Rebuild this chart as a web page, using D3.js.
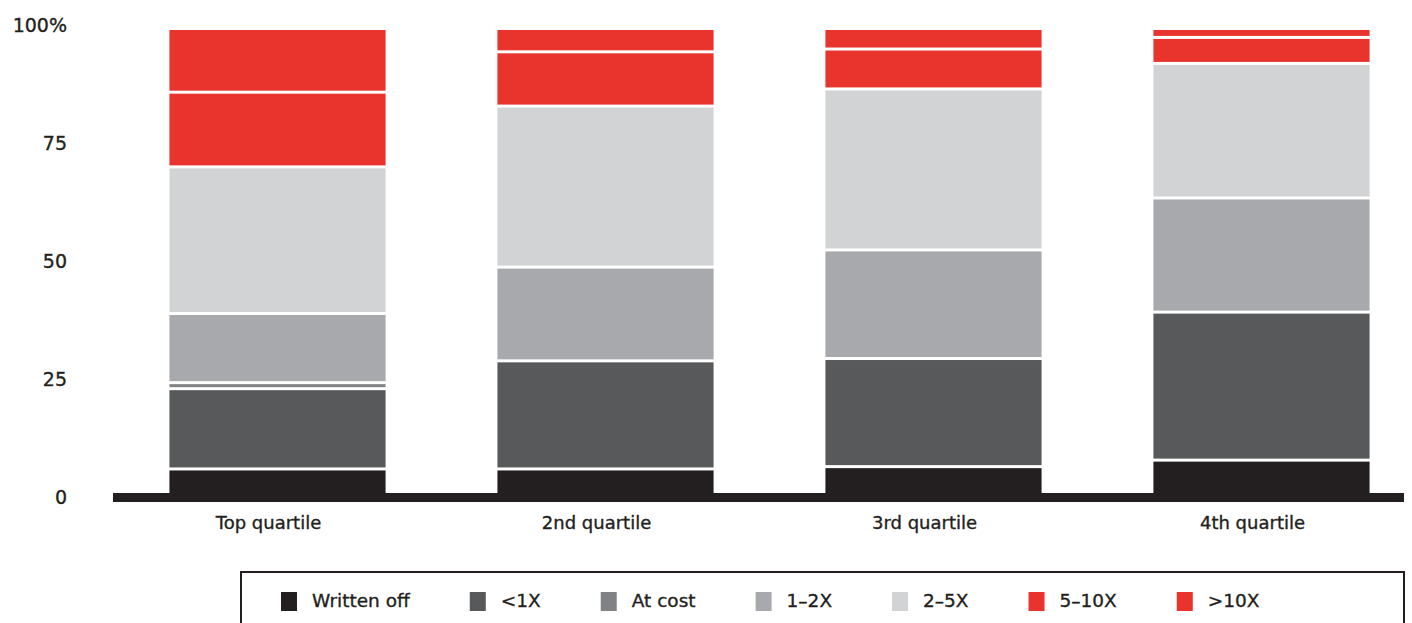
<!DOCTYPE html>
<html>
<head>
<meta charset="utf-8">
<script src="https://cdn.jsdelivr.net/npm/d3@7"></script>
<style>
  html, body { margin: 0; padding: 0; background: #fff; }
  svg { display: block; }
  text { font-family: "DejaVu Sans", sans-serif; fill: #231f20; stroke: #231f20; stroke-width: 0.35px; }
</style>
</head>
<body>
<svg id="chart" width="1412" height="623"></svg>
<script>
// Portfolio outcome mix by fund quartile (share of deals, %)
const categories = ["Top quartile", "2nd quartile", "3rd quartile", "4th quartile"];
const seriesNames = ["Written off", "<1X", "At cost", "1–2X", "2–5X", "5–10X", ">10X"];
const writtenOff = [5.4, 5.4, 5.9, 7.3];
const underOneX  = [17.3, 23.3, 23.3, 31.9];
const atCost     = [1.3, 0, 0, 0];
const oneToTwoX  = [14.9, 20.2, 23.4, 24.6];
const twoToFiveX = [31.6, 34.7, 34.7, 29.0];
const fiveToTenX = [16.1, 11.7, 8.6, 5.6];
const overTenX   = [13.4, 4.7, 4.1, 1.6];
const tickValues = [0, 25, 50, 75, 100];
const tickLabels = ["0", "25", "50", "75", "100%"];

const seriesColors = ["#231f20", "#58595b", "#808285", "#a7a9ac", "#d1d3d4", "#e9332d", "#e9332d"];
const seriesValues = [writtenOff, underOneX, atCost, oneToTwoX, twoToFiveX, fiveToTenX, overTenX];

const rows = categories.map((c, i) => {
  const r = { category: c };
  seriesNames.forEach((s, k) => { r[s] = seriesValues[k][i]; });
  return r;
});

const svg = d3.select("#chart");

const x = d3.scaleBand()
  .domain(categories)
  .range([114, 1425])
  .paddingInner(0.341)
  .paddingOuter(0.169);

const y = d3.scaleLinear().domain([0, 100]).range([494, 30]);

const stacked = d3.stack().keys(seriesNames)(rows);
const gap = 3;

// baseline bar
svg.append("rect")
  .attr("x", 113).attr("y", y(0) - 1)
  .attr("width", 1404 - 113).attr("height", 9)
  .attr("fill", "#231f20");

// stacked segments separated by thin white gaps
const layers = svg.append("g").selectAll("g")
  .data(stacked)
  .join("g")
  .attr("fill", (d, i) => seriesColors[i]);

layers.selectAll("rect")
  .data(d => d.map(p => ({ p, key: d.key, idx: d.index })))
  .join("rect")
  .filter(d => d.p[1] - d.p[0] > 0)
  .attr("x", d => x(d.p.data.category))
  .attr("width", x.bandwidth())
  .attr("y", d => y(d.p[1]) + (d.p[1] >= 99.99 ? 0 : gap / 2))
  .attr("height", d => {
    const top = y(d.p[1]) + (d.p[1] >= 99.99 ? 0 : gap / 2);
    const bottom = y(d.p[0]) - (d.p[0] <= 0 ? -1 : gap / 2);
    return Math.max(0, bottom - top);
  });

// y axis labels (labels sit slightly spread relative to the gridline positions)
const yAxis = d3.axisLeft(y)
  .tickValues(tickValues)
  .tickFormat((d, i) => tickLabels[i])
  .tickSize(0)
  .tickPadding(0);

const yg = svg.append("g").attr("transform", "translate(67,0)").call(yAxis);
yg.select(".domain").remove();
yg.selectAll("text")
  .attr("font-size", 19)
  .attr("font-family", "DejaVu Sans, sans-serif")
  .attr("fill", "#231f20")
  .attr("dy", "0.35em")
  .attr("transform", d => `translate(0,${3 - d * 0.08})`);

// x axis labels
const xAxis = d3.axisBottom(x).tickSize(0).tickPadding(0);
const xg = svg.append("g").attr("transform", "translate(-9,516)").call(xAxis);
xg.select(".domain").remove();
xg.selectAll("text")
  .attr("font-size", 18)
  .attr("font-family", "DejaVu Sans, sans-serif")
  .attr("fill", "#231f20")
  .attr("dy", "0.71em");

// legend
const legend = svg.append("g");
legend.append("rect")
  .attr("x", 241).attr("y", 572)
  .attr("width", 1404 - 241).attr("height", 80)
  .attr("fill", "none")
  .attr("stroke", "#231f20")
  .attr("stroke-width", 2);

let lx = 281;
seriesNames.forEach((name, i) => {
  const item = legend.append("g").attr("transform", `translate(${lx},0)`);
  item.append("rect")
    .attr("x", 0).attr("y", 592)
    .attr("width", 16).attr("height", 19)
    .attr("fill", seriesColors[i]);
  const t = item.append("text")
    .attr("x", 31).attr("y", 607)
    .attr("font-size", 18.5)
    .text(name);
  lx += 31 + t.node().getComputedTextLength() + 60;
});
</script>
</body>
</html>
